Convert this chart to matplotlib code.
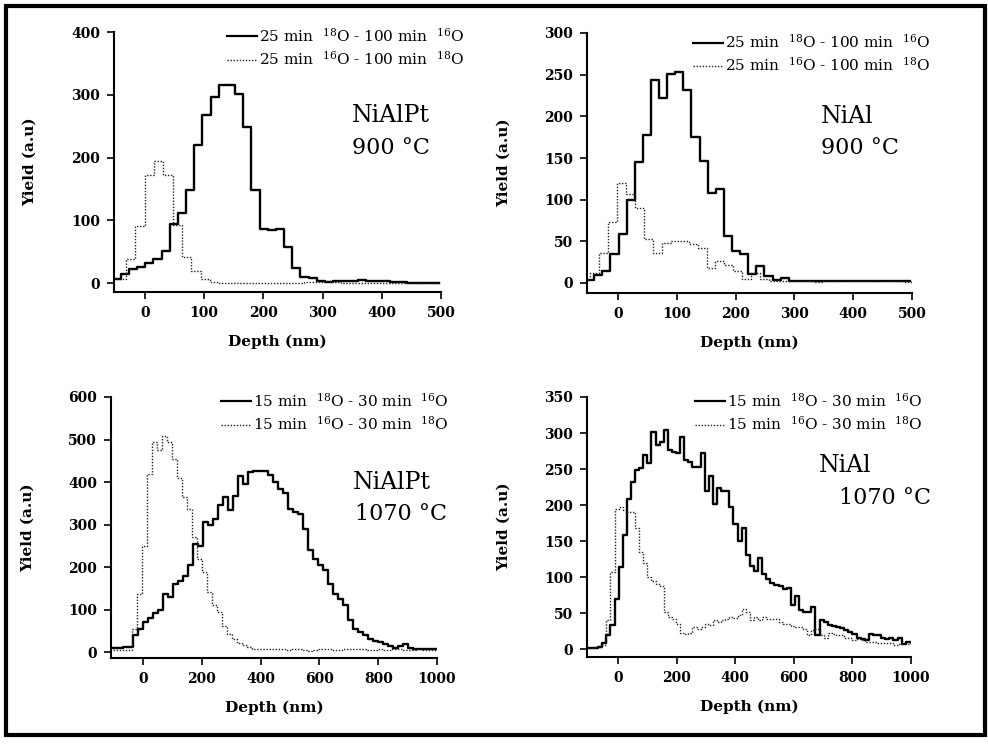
import numpy as np
import matplotlib
matplotlib.use("Agg")
import matplotlib.pyplot as plt
from matplotlib.lines import Line2D
from matplotlib.patches import Rectangle

plt.rcParams["font.family"] = ["DejaVu Serif"]
plt.rcParams["mathtext.default"] = "regular"

# Depth profiles (yield per depth bin)
# bin start (nm), bin width (nm), values

# NiAlPt, 900 C
nialpt900_solid_start, nialpt900_solid_width = -54.6, 13.8
nialpt900_solid = [7, 15, 22, 26, 32, 39, 52, 94, 112, 149, 220, 268, 297, 315,
                   315, 301, 249, 148, 86, 85, 87, 58, 24, 10, 8, 3, 2, 3, 4, 4,
                   5, 4, 3, 3, 2, 2, 1, 1, 1, 0]
nialpt900_dot_start, nialpt900_dot_width = -63.6, 15.8
nialpt900_dot = [7, 7, 38, 91, 173, 195, 173, 92, 42, 19, 6, 2, 1, 0, 0, 0, 1, 1,
                 0, 0, 1, 2, 2, 3, 2, 1, 1, 1, 1, 0, 0, 0, 0, 0, 0, 0]

# NiAl, 900 C
nial900_solid_start, nial900_solid_width = -54.6, 13.8
nial900_solid = [4, 10, 14, 35, 59, 100, 145, 178, 244, 222, 251, 253, 232, 175,
                 146, 108, 113, 56, 38, 35, 11, 21, 8, 4, 6, 2, 2, 2, 2, 2, 3, 3,
                 2, 2, 2, 2, 2, 2, 2, 2]
nial900_dot_start, nial900_dot_width = -62.4, 15.2
nial900_dot = [4, 12, 36, 73, 120, 107, 90, 53, 36, 48, 50, 50, 47, 42, 18, 27,
               22, 14, 5, 12, 5, 3, 2, 2, 2, 2, 1, 2, 3, 3, 2, 2, 2, 2, 2, 2, 1]

# NiAlPt, 1070 C
nialpt1070_solid_start, nialpt1070_solid_width = -118, 17
nialpt1070_solid = [10, 10, 10, 11, 12, 40, 55, 70, 80, 92, 100, 137, 130, 160,
                    168, 180, 204, 254, 250, 306, 298, 314, 345, 365, 335, 366,
                    414, 396, 423, 427, 427, 425, 416, 400, 384, 373, 337, 329,
                    325, 290, 239, 220, 204, 192, 160, 137, 125, 110, 75, 55, 47,
                    39, 31, 27, 24, 20, 14, 10, 14, 20, 9, 8, 8, 8, 7, 7]
nialpt1070_dot_start, nialpt1070_dot_width = -123, 17
nialpt1070_dot = [5, 5, 4, 4, 5, 55, 137, 250, 420, 495, 475, 508, 495, 455, 410,
                  365, 337, 270, 220, 188, 141, 110, 94, 62, 43, 31, 22, 16, 12,
                  8, 6, 8, 7, 6, 8, 6, 5, 6, 7, 4, 3, 4, 6, 7, 6, 5, 5, 6, 6, 7,
                  8, 6, 5, 4, 6, 4, 5, 6, 7, 5, 4, 5, 6, 4, 5, 4]

# NiAl, 1070 C
nial1070_solid_start, nial1070_solid_width = -110, 14
nial1070_solid = [2, 2, 2, 3, 8, 19, 33, 70, 114, 158, 209, 232, 249, 252, 269,
                  258, 302, 283, 288, 304, 276, 274, 272, 295, 262, 260, 253,
                  253, 272, 219, 240, 202, 223, 219, 219, 197, 174, 150, 168,
                  130, 115, 109, 126, 104, 97, 92, 89, 88, 83, 85, 61, 74, 54,
                  52, 51, 58, 19, 40, 37, 34, 32, 30, 29, 26, 24, 21, 15, 14,
                  13, 21, 20, 19, 15, 14, 15, 12, 16, 7, 10, 10]
nial1070_dot_start, nial1070_dot_width = -110, 14
nial1070_dot = [2, 2, 3, 3, 5, 40, 107, 195, 197, 193, 191, 190, 168, 135, 120,
                100, 95, 91, 88, 52, 45, 42, 35, 23, 21, 23, 30, 28, 30, 35, 33,
                40, 37, 40, 42, 44, 43, 47, 56, 51, 40, 44, 40, 44, 42, 42, 42,
                37, 35, 35, 32, 30, 30, 28, 19, 26, 28, 19, 16, 23, 21, 20, 19,
                16, 16, 12, 14, 12, 10, 10, 10, 9, 9, 9, 8, 6, 7, 7, 7, 8]

legend_900 = ["25 min  $^{18}$O - 100 min  $^{16}$O",
              "25 min  $^{16}$O - 100 min  $^{18}$O"]
legend_1070 = ["15 min  $^{18}$O - 30 min  $^{16}$O",
               "15 min  $^{16}$O - 30 min  $^{18}$O"]


def draw_profile(ax, start, width, values, **kw):
    # step histogram through the edges
    edges = start + width * np.arange(len(values) + 1)
    ys = list(values) + [values[-1]]
    ax.step(edges, ys, where="post", **kw)


def make_panel(ax, solid, dot, xlim, ylim, xticks, yticks, labels,
               leg_anchor, sample, temp, sample_xy, temp_xy):
    draw_profile(ax, *solid, color="black", lw=1.7)
    draw_profile(ax, *dot, color="#222222", lw=1.0, linestyle=(0, (1, 1.2)))

    ax.set_xlim(*xlim)
    ax.set_ylim(*ylim)
    ax.set_xticks(xticks)
    ax.set_yticks(yticks)
    for s in ["top", "right"]:
        ax.spines[s].set_visible(False)
    for s in ["left", "bottom"]:
        ax.spines[s].set_linewidth(1.5)
    ax.tick_params(direction="out", length=5, width=1.2, labelsize=10, pad=5)
    for lab in ax.get_xticklabels() + ax.get_yticklabels():
        lab.set_fontweight("bold")

    ax.set_xlabel("Depth (nm)", fontsize=11, fontweight="bold")
    ax.set_ylabel("Yield (a.u)", fontsize=11, fontweight="bold")
    ax.xaxis.set_label_coords(0.5, -0.165)
    ax.yaxis.set_label_coords(-0.235, 0.5)

    handles = [Line2D([], [], color="black", lw=1.6),
               Line2D([], [], color="#222222", lw=1.0, linestyle=(0, (1, 1.2)))]
    ax.legend(handles, labels, loc="upper right", bbox_to_anchor=leg_anchor,
              frameon=False, fontsize=11, handlelength=2.0, handletextpad=0.1,
              borderpad=0, borderaxespad=0, labelspacing=0.35)

    ax.text(*sample_xy, sample, transform=ax.transAxes, fontsize=17,
            va="baseline", ha="left")
    ax.text(*temp_xy, temp, transform=ax.transAxes, fontsize=16,
            va="baseline", ha="left")


fig = plt.figure(figsize=(9.88, 7.44), dpi=100)
W, H = 988.0, 744.0


def axes_px(left, top, right, bottom):
    return fig.add_axes([left / W, 1 - bottom / H, (right - left) / W,
                         (bottom - top) / H])


ax1 = axes_px(114, 32, 441, 292)
make_panel(ax1,
           (nialpt900_solid_start, nialpt900_solid_width, nialpt900_solid),
           (nialpt900_dot_start, nialpt900_dot_width, nialpt900_dot),
           (-52, 500), (-14, 400), range(0, 501, 100), range(0, 401, 100),
           legend_900, (1.07, 1.02), "NiAlPt", "900 °C",
           (0.728, 0.654), (0.728, 0.531))

ax2 = axes_px(587, 33, 912, 293)
make_panel(ax2,
           (nial900_solid_start, nial900_solid_width, nial900_solid),
           (nial900_dot_start, nial900_dot_width, nial900_dot),
           (-53, 500), (-12, 300), range(0, 501, 100), range(0, 301, 50),
           legend_900, (1.055, 1.0), "NiAl", "900 °C",
           (0.72, 0.654), (0.72, 0.535))

ax3 = axes_px(111, 397, 437, 658)
make_panel(ax3,
           (nialpt1070_solid_start, nialpt1070_solid_width, nialpt1070_solid),
           (nialpt1070_dot_start, nialpt1070_dot_width, nialpt1070_dot),
           (-109, 1000), (-14, 600), range(0, 1001, 200), range(0, 601, 100),
           legend_1070, (1.035, 1.02), "NiAlPt", "1070 °C",
           (0.742, 0.647), (0.748, 0.529))

ax4 = axes_px(587, 397, 911, 657)
make_panel(ax4,
           (nial1070_solid_start, nial1070_solid_width, nial1070_solid),
           (nial1070_dot_start, nial1070_dot_width, nial1070_dot),
           (-106, 1000), (-11, 350), range(0, 1001, 200), range(0, 351, 50),
           legend_1070, (1.035, 1.02), "NiAl", "1070 °C",
           (0.716, 0.712), (0.778, 0.588))

# thick frame around the whole figure
fig.add_artist(Rectangle((6 / W, 9 / H), (985 - 6) / W, (735 - 6) / H,
                         transform=fig.transFigure, fill=False, lw=3,
                         color="black"))

fig.savefig("out.png", dpi=100)
